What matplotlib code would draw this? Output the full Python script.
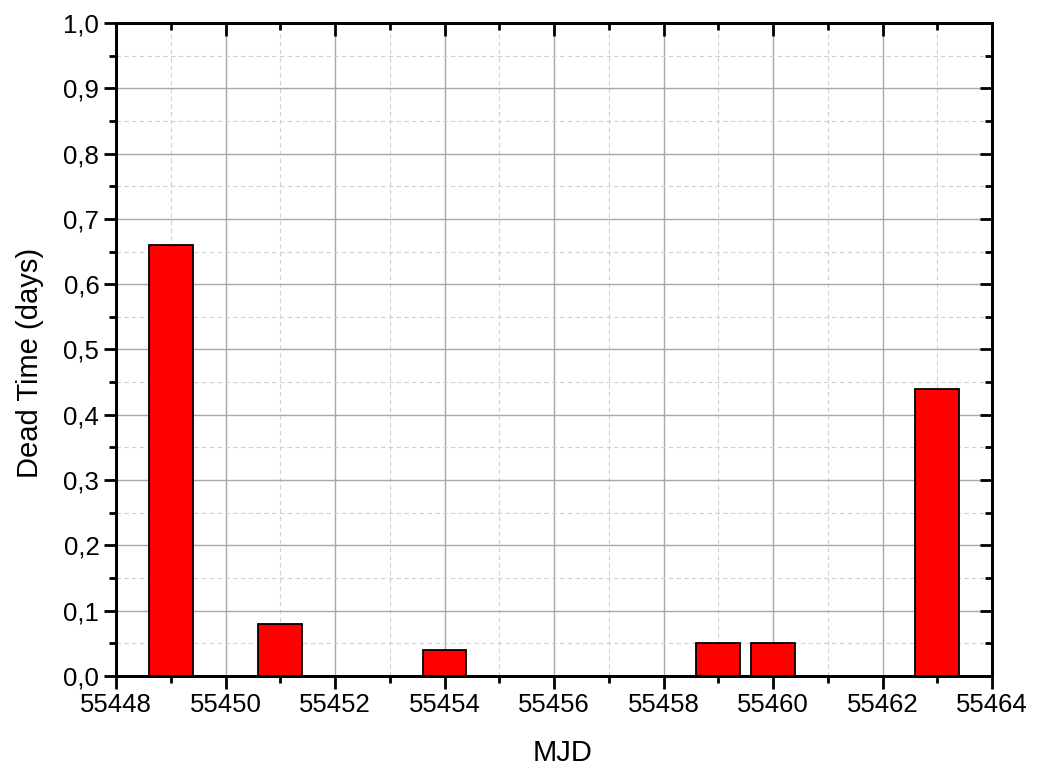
import matplotlib.pyplot as plt
from matplotlib.ticker import MultipleLocator, FuncFormatter

plt.rcParams['font.family'] = ['Liberation Sans', 'DejaVu Sans']

# data
mjd = [55449, 55451, 55454, 55459, 55460, 55463]
dead_time = [0.66, 0.08, 0.04, 0.05, 0.05, 0.44]

fig = plt.figure(figsize=(10.39, 7.71), dpi=100)
ax = fig.add_axes([116 / 1039, 1 - 676 / 771, 876 / 1039, 653 / 771])

ax.bar(mjd, dead_time, width=0.8, color='#ff0000', edgecolor='black', linewidth=1.3, zorder=3)

ax.set_xlim(55448, 55464)
ax.set_ylim(0, 1.0)
ax.xaxis.set_major_locator(MultipleLocator(2))
ax.xaxis.set_minor_locator(MultipleLocator(1))
ax.yaxis.set_major_locator(MultipleLocator(0.1))
ax.yaxis.set_minor_locator(MultipleLocator(0.05))
ax.yaxis.set_major_formatter(FuncFormatter(lambda v, p: f"{v:.1f}".replace('.', ',')))
ax.xaxis.set_major_formatter(FuncFormatter(lambda v, p: f"{int(round(v))}"))

ax.grid(which='major', color='#a8a8a8', linewidth=1.0, zorder=0)
ax.grid(which='minor', color='#cfcfcf', linestyle=(0, (4, 3)), linewidth=0.8, zorder=0)
ax.set_axisbelow(True)

for s in ax.spines.values():
    s.set_linewidth(2)
    s.set_zorder(5)

ax.tick_params(which='both', direction='out', labelsize=18.5, width=2, pad=3)
ax.tick_params(which='major', length=9)
ax.tick_params(which='minor', length=5)

# top and right: inward ticks, no labels
top = ax.twiny()
top.set_xlim(ax.get_xlim())
right = ax.twinx()
right.set_ylim(ax.get_ylim())
top.xaxis.set_major_locator(MultipleLocator(2))
top.xaxis.set_minor_locator(MultipleLocator(1))
right.yaxis.set_major_locator(MultipleLocator(0.1))
right.yaxis.set_minor_locator(MultipleLocator(0.05))
for a in (top, right):
    a.tick_params(which='both', direction='in', width=2, labeltop=False, labelright=False)
    a.tick_params(which='major', length=9)
    a.tick_params(which='minor', length=5)
    for s in a.spines.values():
        s.set_linewidth(2)
    a.grid(False)

ax.set_xlabel('MJD', fontsize=21, labelpad=16)
ax.set_ylabel('Dead Time (days)', fontsize=21, labelpad=14)
ax.xaxis.label.set_x(0.51)
ax.yaxis.label.set_y(0.48)

fig.savefig('out.png', dpi=100)
